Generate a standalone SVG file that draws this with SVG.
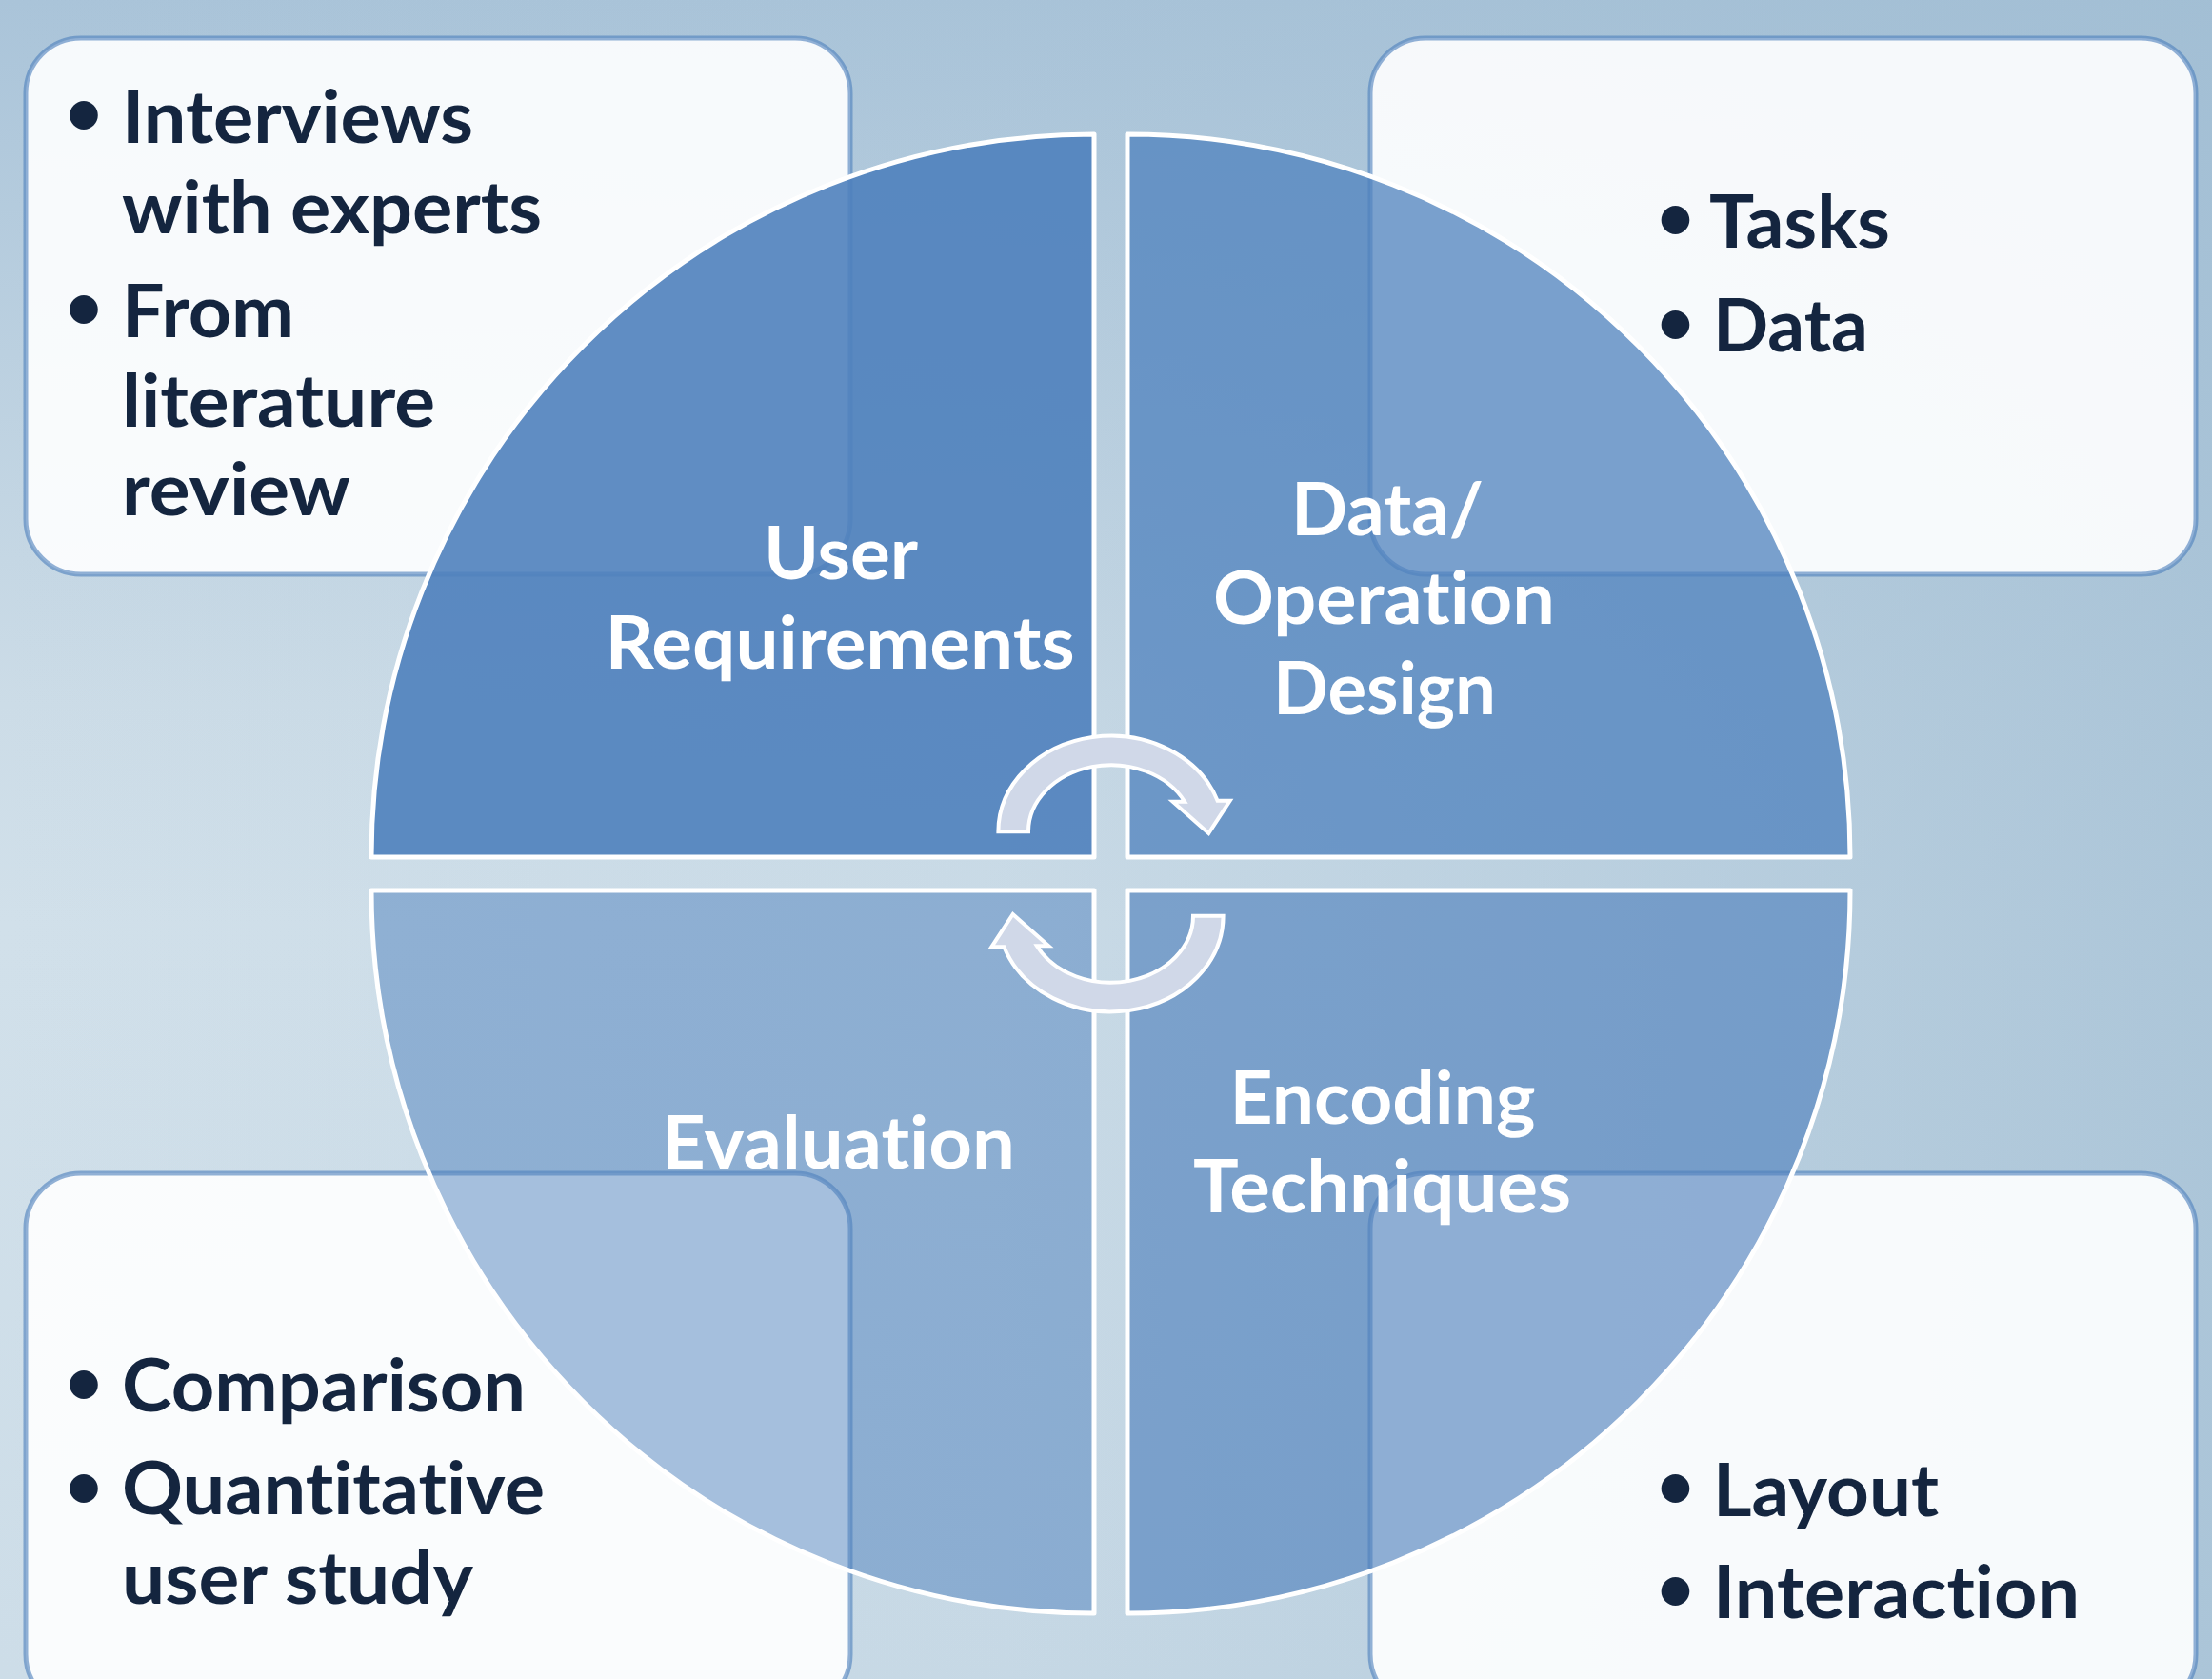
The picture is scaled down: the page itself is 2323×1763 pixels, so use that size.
<svg xmlns="http://www.w3.org/2000/svg" width="2323" height="1763" viewBox="0 0 2323 1763">
  <defs>
    <linearGradient id="bgv" x1="0" y1="0" x2="0" y2="1763" gradientUnits="userSpaceOnUse">
      <stop offset="0" stop-color="#AAC4D9"/>
      <stop offset="0.42" stop-color="#CCDCE7"/>
      <stop offset="0.55" stop-color="#D1E0EA"/>
      <stop offset="1" stop-color="#CDDDE8"/>
    </linearGradient>
    <linearGradient id="bgh" x1="0" y1="0" x2="2323" y2="0" gradientUnits="userSpaceOnUse">
      <stop offset="0" stop-color="#A0BDD3" stop-opacity="0"/>
      <stop offset="0.45" stop-color="#A0BDD3" stop-opacity="0.15"/>
      <stop offset="1" stop-color="#A0BDD3" stop-opacity="0.75"/>
    </linearGradient>
    <path id="cyc" d="M 1048.4 873.3 A 118.3 100.7 0 0 1 1278.6 840.7 L 1291.7 840.7 L 1269.3 875 L 1231.7 841.7 L 1244.1 841.7 A 86.7 70 0 0 0 1080 873.3 Z"/>
  </defs>
  <style>
    text { font-variant-ligatures: none; font-feature-settings: "liga" 0, "dlig" 0; }
    .box { fill: #FFFFFF; fill-opacity: 0.9; stroke: #4F81BD; stroke-opacity: 0.62; stroke-width: 5; }
    .item { font-family: "Lato", "Open Sans", "Liberation Sans", sans-serif; font-weight: 700; font-size: 76px; fill: #14253F; }
    .bul { font-family: "Lato", "Open Sans", "Liberation Sans", sans-serif; font-weight: 700; font-size: 68px; fill: #14253F; text-anchor: middle; }
    .quad { fill: #4F81BD; stroke: #FFFFFF; stroke-width: 5; stroke-linejoin: round; }
    .lbl { font-family: "Lato", "Open Sans", "Liberation Sans", sans-serif; font-weight: 700; font-size: 76px; fill: #FFFFFF; }
    .arrow { fill: #D0D8E8; stroke: #FFFFFF; stroke-width: 4; }
  </style>

  <rect x="0" y="0" width="2323" height="1763" fill="url(#bgv)"/>
  <rect x="0" y="0" width="2323" height="1763" fill="url(#bgh)"/>

  <g id="box-user-requirements-notes">
    <rect class="box" x="27" y="40" width="866" height="563" rx="58" ry="58"/>
    <text class="bul" x="88" y="141">•</text>
    <text class="item" x="128" y="150" textLength="369" lengthAdjust="spacingAndGlyphs">Interviews</text>
    <text class="item" x="128" y="244.5" textLength="441" lengthAdjust="spacingAndGlyphs">with experts</text>
    <text class="bul" x="88" y="344.5">•</text>
    <text class="item" x="128" y="354" textLength="181" lengthAdjust="spacingAndGlyphs">From</text>
    <text class="item" x="128" y="448" textLength="329" lengthAdjust="spacingAndGlyphs">literature</text>
    <text class="item" x="128" y="541" textLength="240" lengthAdjust="spacingAndGlyphs">review</text>
  </g>

  <g id="box-design-notes">
    <rect class="box" x="1439" y="40" width="867" height="563" rx="58" ry="58"/>
    <text class="bul" x="1759.5" y="250.5">•</text>
    <text class="item" x="1795" y="260" textLength="190" lengthAdjust="spacingAndGlyphs">Tasks</text>
    <text class="bul" x="1759.5" y="360.5">•</text>
    <text class="item" x="1799" y="369" textLength="163" lengthAdjust="spacingAndGlyphs">Data</text>
  </g>

  <g id="box-evaluation-notes">
    <rect class="box" x="27" y="1232" width="866" height="563" rx="58" ry="58"/>
    <text class="bul" x="88" y="1473.5">•</text>
    <text class="item" x="128" y="1482" textLength="424" lengthAdjust="spacingAndGlyphs">Comparison</text>
    <text class="bul" x="88" y="1583">•</text>
    <text class="item" x="128" y="1590" textLength="444" lengthAdjust="spacingAndGlyphs">Quantitative</text>
    <text class="item" x="128" y="1684" textLength="369" lengthAdjust="spacingAndGlyphs">user study</text>
  </g>

  <g id="box-encoding-notes">
    <rect class="box" x="1439" y="1232" width="867" height="563" rx="58" ry="58"/>
    <text class="bul" x="1759.5" y="1583">•</text>
    <text class="item" x="1799" y="1592" textLength="237" lengthAdjust="spacingAndGlyphs">Layout</text>
    <text class="bul" x="1759.5" y="1690.5">•</text>
    <text class="item" x="1799" y="1699" textLength="385" lengthAdjust="spacingAndGlyphs">Interaction</text>
  </g>

  <g id="q-user-requirements">
    <path class="quad" fill-opacity="0.9" d="M 1149 900 L 390 900 A 759 759 0 0 1 1149 141 Z"/>
    <text class="lbl" x="802" y="608" textLength="162" lengthAdjust="spacingAndGlyphs">User</text>
    <text class="lbl" x="635.6" y="702" textLength="493" lengthAdjust="spacingAndGlyphs">Requirements</text>
  </g>

  <g id="q-data-operation-design">
    <path class="quad" fill-opacity="0.75" d="M 1184 900 L 1184 141 A 759 759 0 0 1 1943 900 Z"/>
    <text class="lbl" x="1356" y="562" textLength="202" lengthAdjust="spacingAndGlyphs">Data/</text>
    <text class="lbl" x="1274" y="655" textLength="359" lengthAdjust="spacingAndGlyphs">Operation</text>
    <text class="lbl" x="1337" y="750" textLength="234" lengthAdjust="spacingAndGlyphs">Design</text>
  </g>

  <g id="q-encoding-techniques">
    <path class="quad" fill-opacity="0.63" d="M 1184 935 L 1943 935 A 759 759 0 0 1 1184 1694 Z"/>
    <text class="lbl" x="1291.5" y="1180" textLength="321" lengthAdjust="spacingAndGlyphs">Encoding</text>
    <text class="lbl" x="1253" y="1273" textLength="397" lengthAdjust="spacingAndGlyphs">Techniques</text>
  </g>

  <g id="q-evaluation">
    <path class="quad" fill-opacity="0.5" d="M 1149 935 L 1149 1694 A 759 759 0 0 1 390 935 Z"/>
    <text class="lbl" x="695" y="1227" textLength="371" lengthAdjust="spacingAndGlyphs">Evaluation</text>
  </g>

  <g id="connectors">
    <use href="#cyc" class="arrow"/>
    <use href="#cyc" class="arrow" transform="rotate(180 1166.5 917.5)"/>
  </g>
</svg>
